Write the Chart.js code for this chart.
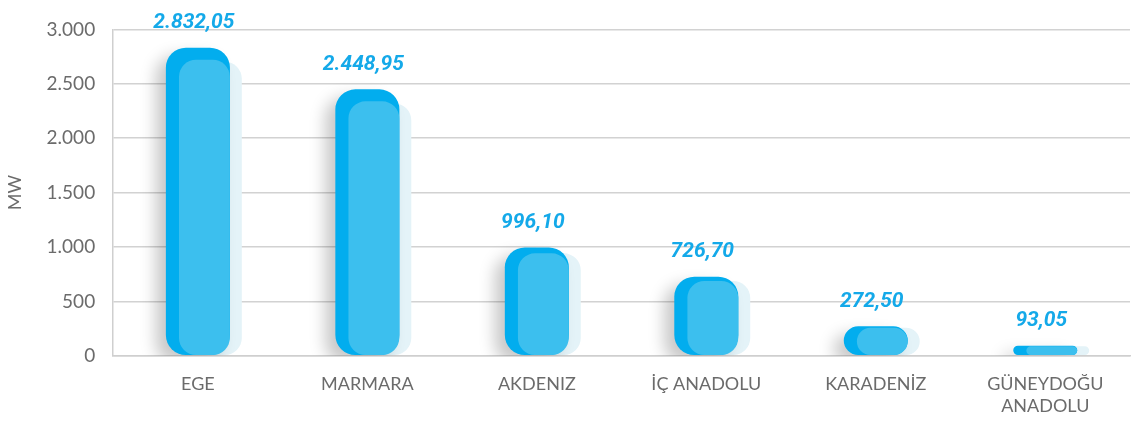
<!DOCTYPE html>
<html>
<head>
<meta charset="utf-8">
<script src="https://cdn.jsdelivr.net/npm/chart.js@4.4.0/dist/chart.umd.min.js"></script>
<style>
  html, body { margin: 0; padding: 0; background: #fff; }
  #wrap { width: 1144px; height: 427px; position: relative; }
</style>
</head>
<body>
<div id="wrap"><canvas id="chart"></canvas></div>
<script>
// regions and installed capacity (MW)
const regions = ['EGE', 'MARMARA', 'AKDENIZ', 'İÇ ANADOLU', 'KARADENİZ', ['GÜNEYDOĞU', 'ANADOLU']];
const capacity = [2832.05, 2448.95, 996.10, 726.70, 272.50, 93.05];
const yTicks = [0, 500, 1000, 1500, 2000, 2500, 3000];

// turkish number format: 2.832,05
function trFormat(v, decimals) {
    const parts = v.toFixed(decimals).split('.');
    parts[0] = parts[0].replace(/\B(?=(\d{3})+(?!\d))/g, '.');
    return parts.join(',');
}

// shifts the front / pale layers so the bars get their stacked 3d look
const layerPlugin = {
    id: 'layers',
    beforeDatasetDraw(chart, args) {
        const ds = chart.data.datasets[args.index];
        const ctx = chart.ctx;
        ctx.save();
        if (ds.layer === 'dark') {
            ctx.shadowColor = 'rgba(0,0,0,0.22)';
            ctx.shadowBlur = 16;
            ctx.shadowOffsetX = -10;
            ctx.shadowOffsetY = 8;
        }
        if (ds.layer === 'front' || ds.layer === 'pale') {
            args.meta.data.forEach(el => {
                el._orig = { x: el.x, y: el.y };
                const h = el.base - el.y;
                el.x += ds.shiftX;
                el.y += Math.min(ds.maxDrop, h * 0.055);
            });
        }
    },
    afterDatasetDraw(chart, args) {
        args.meta.data.forEach(el => {
            if (el._orig) {
                el.x = el._orig.x;
                el.y = el._orig.y;
                delete el._orig;
            }
        });
        chart.ctx.restore();
    }
};

const valueLabels = {
    id: 'valueLabels',
    afterDatasetsDraw(chart) {
        const ctx = chart.ctx;
        const meta = chart.getDatasetMeta(1);
        ctx.save();
        ctx.fillStyle = '#14a9e9';
        ctx.font = 'italic bold 21px Roboto, "Open Sans", sans-serif';
        ctx.textAlign = 'center';
        ctx.textBaseline = 'bottom';
        meta.data.forEach((el, i) => {
            ctx.fillText(trFormat(capacity[i], 2), el.x - 4, el.y - 14);
        });
        ctx.restore();
    }
};

const barBase = {
    data: capacity,
    grouped: false,
    categoryPercentage: 1,
    borderSkipped: false
};

new Chart(document.getElementById('chart'), {
    type: 'bar',
    data: {
        labels: regions,
        datasets: [
            Object.assign({}, barBase, {
                layer: 'front',
                backgroundColor: '#3cbfee',
                barPercentage: 0.30,
                borderRadius: 17,
                shiftX: 6.5,
                maxDrop: 12
            }),
            Object.assign({}, barBase, {
                layer: 'dark',
                backgroundColor: '#02adee',
                barPercentage: 0.378,
                borderRadius: 20
            }),
            Object.assign({}, barBase, {
                layer: 'pale',
                backgroundColor: '#e4f3f8',
                barPercentage: 0.30,
                borderRadius: 17,
                shiftX: 18.5,
                maxDrop: 14
            })
        ]
    },
    options: {
        responsive: true,
        maintainAspectRatio: false,
        animation: false,
        events: [],
        layout: { padding: { left: 4, right: 14, top: 17, bottom: 0 } },
        plugins: {
            legend: { display: false },
            tooltip: { enabled: false }
        },
        scales: {
            x: {
                grid: { display: false },
                border: { color: '#cfcfcf', width: 1.5 },
                ticks: {
                    color: '#6b6b6b',
                    font: { family: 'Lato, "Open Sans", sans-serif', size: 18 },
                    padding: 10,
                    maxRotation: 0,
                    autoSkip: false
                }
            },
            y: {
                min: 0,
                max: 3000,
                afterBuildTicks(scale) {
                    scale.ticks = yTicks.map(v => ({ value: v }));
                },
                grid: { color: '#d2d2d2', lineWidth: 1.5, drawTicks: false },
                border: { color: '#cfcfcf', width: 1.5 },
                ticks: {
                    color: '#6b6b6b',
                    font: { family: 'Lato, "Open Sans", sans-serif', size: 19 },
                    padding: 18,
                    callback: v => trFormat(v, 0)
                },
                title: {
                    display: true,
                    text: 'MW',
                    color: '#6b6b6b',
                    font: { family: 'Lato, "Open Sans", sans-serif', size: 18 },
                    padding: { top: 0, bottom: 3 }
                }
            }
        }
    },
    plugins: [layerPlugin, valueLabels]
});
</script>
</body>
</html>
